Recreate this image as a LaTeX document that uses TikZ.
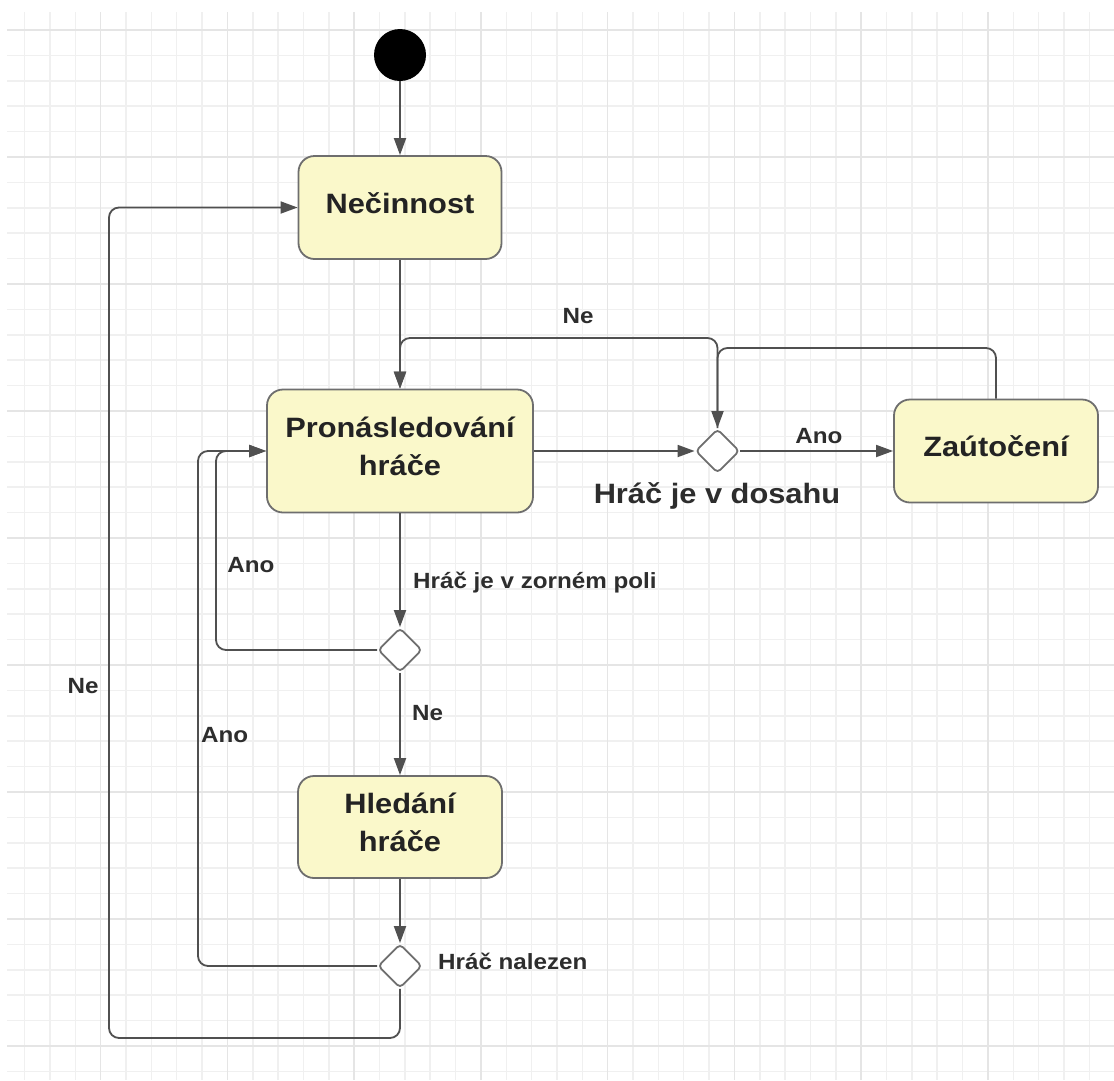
\documentclass[tikz,border=0pt]{standalone}
\usepackage{fontspec}
\newfontfamily\dfont[FakeStretch=1.1]{Liberation Sans}
\usetikzlibrary{arrows.meta,shapes.geometric}
\definecolor{gridminor}{RGB}{240,240,240}
\definecolor{gridmajor}{RGB}{229,229,229}
\definecolor{boxfill}{RGB}{250,248,202}
\definecolor{boxdraw}{RGB}{110,110,110}
\definecolor{linec}{RGB}{80,80,80}
\definecolor{txt}{RGB}{35,35,35}
\definecolor{lbl}{RGB}{45,45,45}
\begin{document}
\begin{tikzpicture}[x=1pt,y=-1pt,
  statebox/.style={draw=boxdraw, line width=1.8pt, fill=boxfill, rounded corners=16pt, inner sep=0pt, align=center, text=txt, text depth=9pt, font=\dfont\bfseries\fontsize{28}{38}\selectfont},
  decision/.style={diamond, draw=boxdraw, line width=1.8pt, fill=white, minimum width=44pt, minimum height=44pt, inner sep=0pt, rounded corners=4pt},
  conn/.style={draw=linec, line width=1.8pt, rounded corners=10pt, -{Triangle[length=17pt,width=12pt]}},
  lab/.style={text=lbl, font=\dfont\bfseries\fontsize{22}{26}\selectfont, inner sep=0pt, anchor=base},
  biglab/.style={text=lbl, font=\dfont\bfseries\fontsize{28}{32}\selectfont, inner sep=0pt, anchor=base},
]
\useasboundingbox (0,0) rectangle (1114,1080);
\fill[white] (0,0) rectangle (1114,1080);
% grid
\foreach \k in {0,...,42} \draw[gridminor, line width=1.5pt] ({24.6+25.35*\k},12) -- ({24.6+25.35*\k},1080);
\foreach \k in {0,...,41} \draw[gridminor, line width=1.5pt] (7,{30+25.4*\k}) -- (1114,{30+25.4*\k});
\foreach \k in {3,8,...,38} \draw[gridmajor, line width=1.6pt] ({24.6+25.35*\k},12) -- ({24.6+25.35*\k},1080);
\foreach \k in {0,5,...,40} \draw[gridmajor, line width=1.6pt] (7,{30+25.4*\k}) -- (1114,{30+25.4*\k});

% nodes
\node[circle, fill=black, minimum size=52pt, inner sep=0pt] (start) at (400,55) {};
\node[statebox, minimum width=203pt, minimum height=103pt] (nec) at (400,207.5) {Nečinnost};
\node[statebox, minimum width=266pt, minimum height=123pt] (pron) at (400,451) {Pronásledování\\hráče};
\node[statebox, minimum width=204pt, minimum height=103pt] (zau) at (996,451) {Zaútočení};
\node[statebox, minimum width=204pt, minimum height=102pt] (hled) at (400,827) {Hledání\\hráče};
\node[decision] (d1) at (717.5,451) {};
\node[decision] (d2) at (400,650) {};
\node[decision] (d3) at (400,966) {};

% helper coordinates
\coordinate (neR) at (717.5,338);
\coordinate (neL) at (400,338);
\coordinate (zR) at (996,348);
\coordinate (zL) at (717.5,348);
\coordinate (a1B) at (216,650);
\coordinate (a1T) at (216,451);
\coordinate (a2B) at (198,966);
\coordinate (a2T) at (198,451);
\coordinate (nB) at (400,1038);
\coordinate (nBL) at (109,1038);
\coordinate (nTL) at (109,207.5);

% connectors
\draw[conn] (start) -- (nec);
\draw[conn] (nec) -- (pron);
\draw[conn] (pron) -- (d1);
\draw[conn] (d1) -- (zau);
\draw[conn] (d1.north) -- (neR) -- (neL) -- (pron.north);
\draw[conn] (zau.north) -- (zR) -- (zL) -- (d1.north);
\draw[conn] (pron) -- (d2);
\draw[conn] (d2.west) -- (a1B) -- (a1T) -- (pron.west);
\draw[conn] (d2) -- (hled);
\draw[conn] (hled) -- (d3);
\draw[conn] (d3.west) -- (a2B) -- (a2T) -- (pron.west);
\draw[conn] (d3.south) -- (nB) -- (nBL) -- (nTL) -- (nec.west);

% labels
\node[lab] (lNe1) at (578,323) {Ne};
\node[lab] (lAno1) at (819,443) {Ano};
\node[biglab] (lDos) at (717,503) {Hráč je v dosahu};
\node[lab, anchor=base west] (lZor) at (413,588) {Hráč je v zorném poli};
\node[lab] (lAno2) at (251,572) {Ano};
\node[lab, anchor=base west] (lNe2) at (412,720) {Ne};
\node[lab, anchor=base west] (lAno3) at (201,742) {Ano};
\node[lab] (lNe3) at (83,693) {Ne};
\node[lab, anchor=base west] (lNal) at (438,969) {Hráč nalezen};
\end{tikzpicture}
\end{document}
